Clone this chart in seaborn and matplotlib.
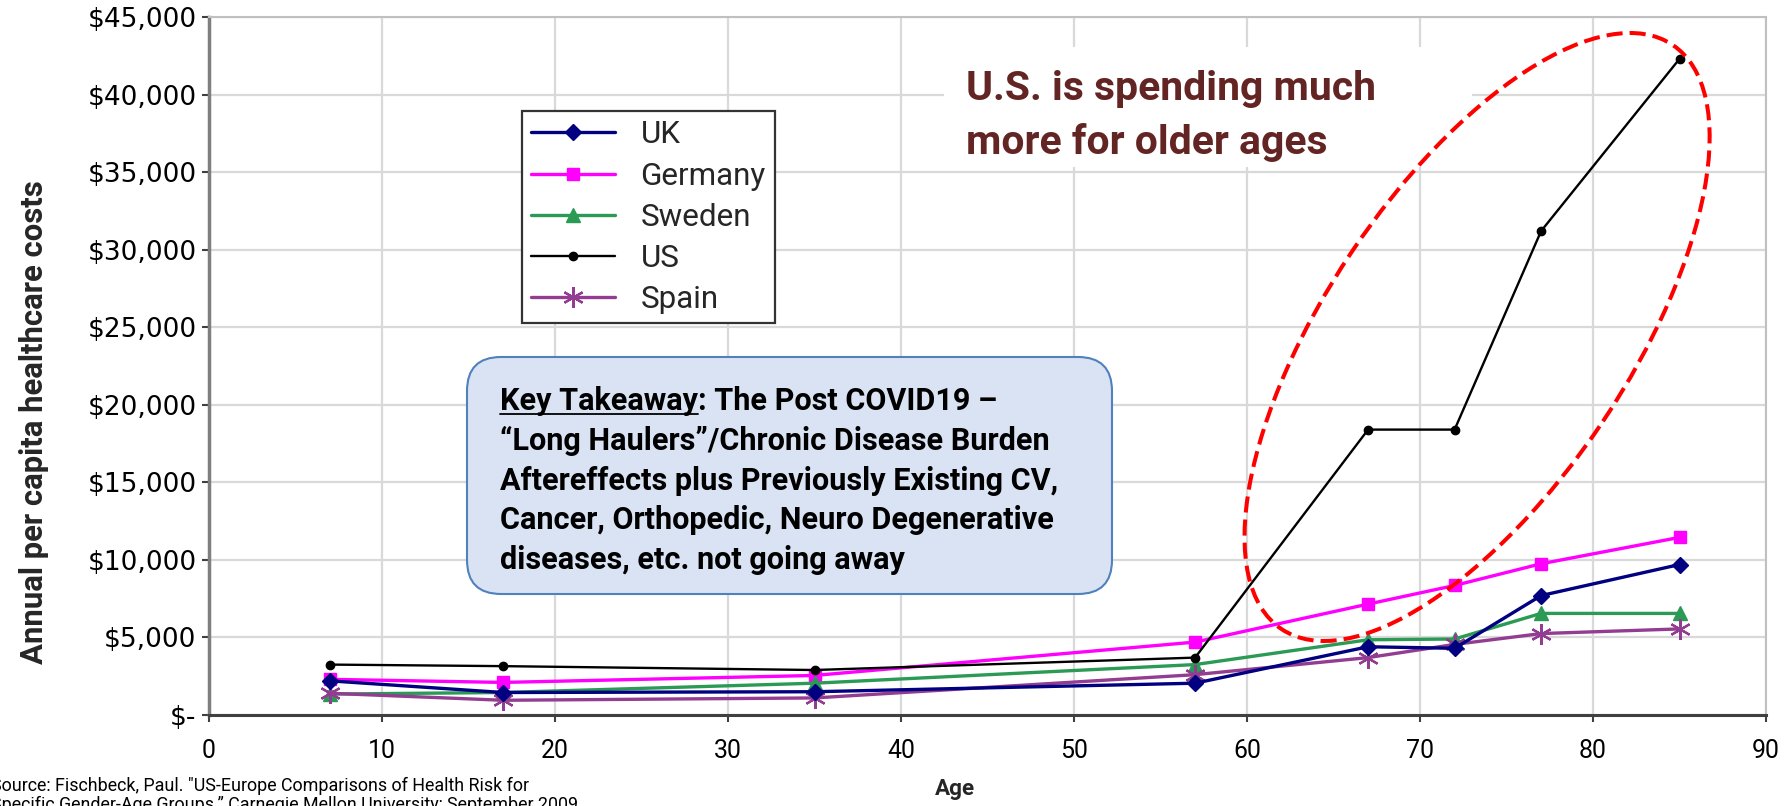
import matplotlib
matplotlib.use("Agg")
import pandas as pd
import matplotlib.pyplot as plt
import seaborn as sns
from matplotlib import font_manager, transforms
from matplotlib.patches import Ellipse, FancyBboxPatch, Rectangle
from matplotlib.lines import Line2D
from matplotlib.ticker import FixedLocator, FuncFormatter

# Annual per-capita healthcare costs (USD) by age group
ages = [7, 17, 35, 57, 67, 72, 77, 85]
uk_costs = [2200, 1450, 1500, 2050, 4400, 4300, 7700, 9700]
germany_costs = [2300, 2100, 2550, 4700, 7150, 8350, 9750, 11450]
sweden_costs = [1350, 1450, 2050, 3250, 4850, 4900, 6550, 6550]
us_costs = [3250, 3150, 2900, 3700, 18400, 18400, 31200, 42300]
spain_costs = [1400, 950, 1100, 2600, 3700, 4550, 5250, 5550]
countries = ["UK", "Germany", "Sweden", "US", "Spain"]

x_ticks = [0, 10, 20, 30, 40, 50, 60, 70, 80, 90]
y_ticks = [0, 5000, 10000, 15000, 20000, 25000, 30000, 35000, 40000, 45000]

x_title = "Age"
y_title = "Annual per capita healthcare costs"
callout_lines = ["U.S. is spending much", "more for older ages"]
takeaway_head = "Key Takeaway"
takeaway_lines = [
    ": The Post COVID19 \u2013",
    "\u201cLong Haulers\u201d/Chronic Disease Burden",
    "Aftereffects plus Previously Existing CV,",
    "Cancer, Orthopedic, Neuro Degenerative",
    "diseases, etc. not going away",
]
source_lines = [
    'Source: Fischbeck, Paul. "US-Europe Comparisons of Health Risk for',
    "Specific Gender-Age Groups,\u201d Carnegie Mellon University; September 2009.",
]

W, H, DPI = 1788, 806, 100

sns.set_theme(style="whitegrid")
installed = {f.name for f in font_manager.fontManager.ttflist}


def first_font(*cands):
    for c in cands:
        if c in installed:
            return c
    return "DejaVu Sans"


NARROW = first_font("Liberation Sans Narrow", "Roboto", "Open Sans")
FAM = [NARROW, "DejaVu Sans"]
WIDE = ["DejaVu Sans"]
plt.rcParams["font.family"] = FAM

fig = plt.figure(figsize=(W / DPI, H / DPI), dpi=DPI)
fig.patch.set_facecolor("white")
AX_L, AX_R, AX_T, AX_B = 209, 1766, 17, 715
ax = fig.add_axes([AX_L / W, 1 - AX_B / H, (AX_R - AX_L) / W, (AX_B - AX_T) / H])
ax.set_facecolor("white")

renderer = fig.canvas.get_renderer()


def text_width(s, size, family, weight):
    t = fig.text(0, 0, s, fontsize=size, family=family, fontweight=weight)
    w = t.get_window_extent(renderer).width
    t.remove()
    return w


def fit_size(s, target_px, family=FAM, weight="normal", base=20.0):
    return base * target_px / text_width(s, base, family, weight)


pix = transforms.Affine2D().scale(1 / W, 1 / H) + fig.transFigure


def fy(y_top):
    return H - y_top


costs = {
    "UK": uk_costs,
    "Germany": germany_costs,
    "Sweden": sweden_costs,
    "US": us_costs,
    "Spain": spain_costs,
}
df = pd.DataFrame({"Age": ages, **costs}).melt(
    id_vars="Age", var_name="Country", value_name="Cost"
)

line_styles = {
    "UK": dict(color="#000080", marker="D", ms=8.5, lw=2.4, mew=1.0, z=4),
    "Germany": dict(color="#ff00ff", marker="s", ms=8.5, lw=2.4, mew=1.0, z=3),
    "Sweden": dict(color="#2a9a55", marker="^", ms=9.5, lw=2.4, mew=1.0, z=3),
    "US": dict(color="#000000", marker="o", ms=6.0, lw=1.7, mew=1.0, z=5),
    "Spain": dict(color="#923c92", marker=(6, 2, 0), ms=15, lw=2.4, mew=1.6, z=3),
}

for country in countries:
    st = line_styles[country]
    sns.lineplot(
        data=df[df["Country"] == country], x="Age", y="Cost", ax=ax,
        label=country, errorbar=None, color=st["color"], linewidth=st["lw"],
        marker=st["marker"], markersize=st["ms"], markeredgecolor=st["color"],
        markerfacecolor=st["color"], markeredgewidth=st["mew"], zorder=st["z"],
    )

ax.set_xlim(0, 90)
ax.set_ylim(0, 45000)
ax.xaxis.set_major_locator(FixedLocator(x_ticks))
ax.yaxis.set_major_locator(FixedLocator(y_ticks))
ax.yaxis.set_major_formatter(
    FuncFormatter(lambda v, p: "$-" if v == 0 else f"${v:,.0f}")
)
ax.set_xlabel("")
ax.set_ylabel("")
ax.grid(True, color="#d9d9d9", linewidth=1.6)
ax.set_axisbelow(True)

ax.spines["left"].set_color("#7f7f7f")
ax.spines["left"].set_linewidth(2.5)
ax.spines["bottom"].set_color("#404040")
ax.spines["bottom"].set_linewidth(2.2)
for side in ("top", "right"):
    ax.spines[side].set_color("#c0c0c0")
    ax.spines[side].set_linewidth(1.5)
    ax.spines[side].set_visible(True)

x_size = fit_size("90", 28)
ax.tick_params(axis="both", which="major", direction="out", length=5,
               width=1.5, color="#404040", bottom=True, left=True)
ax.tick_params(axis="x", labelsize=x_size, pad=12, labelcolor="black",
               labelfontfamily=FAM)
ax.tick_params(axis="y", labelsize=19, pad=4, labelcolor="black",
               labelfontfamily=WIDE)

# legend
leg_size = fit_size("Germany", 125)
leg_px = leg_size * DPI / 72
leg = ax.legend(
    loc="upper left",
    bbox_to_anchor=((522 - AX_L) / (AX_R - AX_L), (AX_B - 111) / (AX_B - AX_T)),
    borderaxespad=0, fancybox=False, framealpha=1, edgecolor="#333333",
    prop={"family": FAM, "size": leg_size},
    handlelength=84 / leg_px, labelspacing=max(41 / leg_px - 0.92, 0.1),
    borderpad=0.3, handletextpad=0.8,
)
leg.get_frame().set_linewidth(1.6)

# axis titles
yl_size = fit_size(y_title, 485, weight="bold")
fig.text(34 / W, fy(422) / H, y_title, rotation=90, ha="center", va="center",
         fontsize=yl_size, fontweight="bold", family=FAM)
xl_size = fit_size(x_title, 40, weight="bold")
fig.text(955 / W, fy(789) / H, x_title, ha="center", va="center",
         fontsize=xl_size, fontweight="bold", family=FAM)

# callout about US spending, on a white panel
fig.add_artist(Rectangle((944, fy(167)), 1472 - 944, 167 - 47, transform=pix,
                         facecolor="white", edgecolor="none", zorder=2))
co_size = fit_size(callout_lines[0], 410, weight="bold")
for line, base in zip(callout_lines, [100, 154]):
    fig.text(966 / W, fy(base) / H, line, ha="left", va="baseline",
             fontsize=co_size, fontweight="bold", color="#632523",
             family=FAM, zorder=4)

# dashed ring around the US curve at older ages
ring_center = (73.3, 24370)
ring_tr = transforms.Affine2D() + transforms.ScaledTranslation(
    ring_center[0], ring_center[1], ax.transData)
fig.add_artist(Ellipse((0, 0), 703, 303, angle=56.2, transform=ring_tr,
                       fill=False, edgecolor="#ff0000", linewidth=2.9,
                       linestyle=(0, (4, 1.75)), zorder=3))

# key takeaway panel
fig.add_artist(FancyBboxPatch((467, fy(594)), 1112 - 467, 594 - 357,
                              boxstyle="round,pad=0,rounding_size=34",
                              transform=pix, facecolor="#dae3f3",
                              edgecolor="#4f81bd", linewidth=1.5, zorder=2))
tk_size = fit_size(takeaway_lines[2], 558, weight="bold")
tk_x = 500
baselines = [410, 450, 490, 529, 569]
head = fig.text(tk_x / W, fy(baselines[0]) / H, takeaway_head, ha="left",
                va="baseline", fontsize=tk_size, fontweight="bold",
                family=FAM, color="black", zorder=4)
head_w = head.get_window_extent(renderer).width
fig.add_artist(Line2D([tk_x, tk_x + head_w], [fy(baselines[0] + 4)] * 2,
                      transform=pix, color="black", linewidth=1.3, zorder=4))
fig.text((tk_x + head_w) / W, fy(baselines[0]) / H, takeaway_lines[0],
         ha="left", va="baseline", fontsize=tk_size, fontweight="bold",
         family=FAM, color="black", zorder=4)
for line, base in zip(takeaway_lines[1:], baselines[1:]):
    fig.text(tk_x / W, fy(base) / H, line, ha="left", va="baseline",
             fontsize=tk_size, fontweight="bold", family=FAM, color="black",
             zorder=4)

# source note, running off the lower-left corner of the page
src_size = fit_size(source_lines[0], 536)
for line, base in zip(source_lines, [791, 810]):
    fig.text(-9 / W, fy(base) / H, line, ha="left", va="baseline",
             fontsize=src_size, family=FAM, color="black", zorder=4)

fig.savefig("out.png", dpi=DPI, facecolor="white")
